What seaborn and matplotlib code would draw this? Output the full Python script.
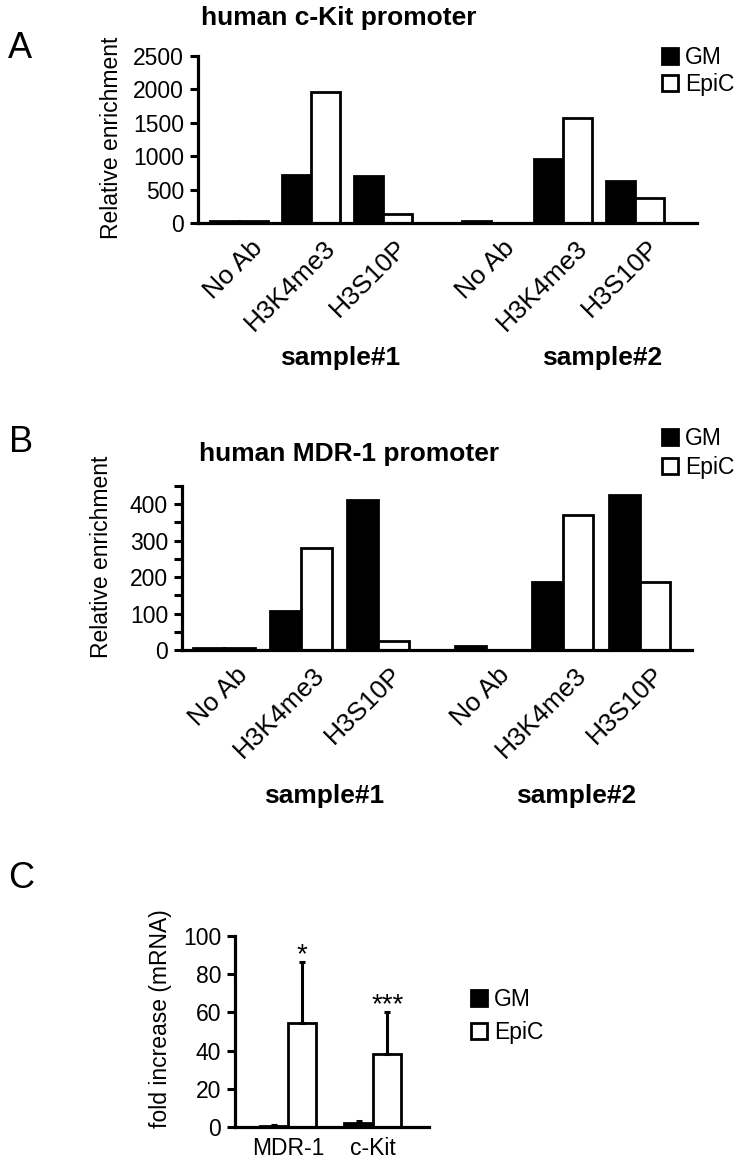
import numpy as np
import pandas as pd
import matplotlib
matplotlib.use("Agg")
import matplotlib.pyplot as plt
import seaborn as sns
from matplotlib.patches import Patch
from matplotlib.ticker import MultipleLocator
from matplotlib.transforms import ScaledTranslation

# ---------------- data ----------------
targets = ["No Ab", "H3K4me3", "H3S10P"]
samples = ["sample#1", "sample#2"]
conditions = ["GM", "EpiC"]

# panel A: human c-Kit promoter (sample#1 then sample#2)
kit_gm = [35, 715, 705, 35, 955, 635]
kit_epic = [35, 1960, 140, 0, 1570, 375]

# panel B: human MDR-1 promoter
mdr_gm = [6, 108, 412, 10, 186, 425]
mdr_epic = [6, 279, 26, 0, 371, 187]

# panel C: mRNA fold increase
genes = ["MDR-1", "c-Kit"]
mrna_gm = [0.5, 2.0]
mrna_gm_err = [0.3, 1.3]
mrna_epic = [54.5, 38.0]
mrna_epic_err = [32.0, 22.0]
stars = ["*", "***"]

# ---------------- style ----------------
W, H, DPI = 742, 1162, 100
sns.set_style("ticks")
plt.rcParams["font.family"] = ["Liberation Sans", "DejaVu Sans"]
plt.rcParams.update({
    "axes.linewidth": 2.3,
    "text.color": "black",
    "axes.labelcolor": "black",
    "axes.edgecolor": "black",
    "xtick.color": "black",
    "ytick.color": "black",
    "xtick.labelcolor": "black",
    "ytick.labelcolor": "black",
})

palette = {"GM": "black", "EpiC": "white"}
TICK_FS = 16.5
XTICK_FS = 19
BOLD_FS = 19

fig = plt.figure(figsize=(W / DPI, H / DPI), dpi=DPI)


def rect(l, t, r, b):
    return [l / W, 1 - b / H, (r - l) / W, (b - t) / H]


def chip_frame(gm, epic, gap):
    rows = []
    for i, (g, e) in enumerate(zip(gm, epic)):
        s, t = divmod(i, 3)
        pos = t + s * gap
        rows.append(dict(pos=pos, target=targets[t], sample=samples[s], cond="GM", value=g))
        rows.append(dict(pos=pos, target=targets[t], sample=samples[s], cond="EpiC", value=e))
    return pd.DataFrame(rows)


def style_axes(ax):
    sns.despine(ax=ax)
    for sp in ("left", "bottom"):
        ax.spines[sp].set_linewidth(2.3)
        ax.spines[sp].set_color("black")
    ax.tick_params(axis="y", which="both", direction="out", length=6, width=2.2,
                   labelsize=TICK_FS, pad=4, color="black", labelcolor="black")
    ax.set_xlabel("")


def add_legend(x_px, cy_px, spacing):
    handles = [Patch(facecolor=palette[c], edgecolor="black", linewidth=2) for c in conditions]
    fig.legend(handles, conditions, loc="center left",
               bbox_to_anchor=(x_px / W, 1 - cy_px / H), frameon=False,
               fontsize=16.5, handlelength=0.7, handleheight=0.7,
               handletextpad=0.3, labelspacing=spacing, borderpad=0, borderaxespad=0)


def chip_panel(rect_px, gm, epic, gap, xlim, ylim, major, minor, ylabel_xpx, ylabel_y):
    ax = fig.add_axes(rect(*rect_px))
    df = chip_frame(gm, epic, gap)
    sns.barplot(data=df, x="pos", y="value", hue="cond", hue_order=conditions,
                palette=palette, native_scale=True, width=0.8, edgecolor="black",
                linewidth=2.0, errorbar=None, legend=False, ax=ax)
    style_axes(ax)
    ax.set_ylim(*ylim)
    ax.set_xlim(*xlim)
    ax.yaxis.set_major_locator(MultipleLocator(major))
    if minor:
        ax.yaxis.set_minor_locator(MultipleLocator(minor))
    ticks = df.drop_duplicates("pos").sort_values("pos")
    ax.set_xticks(ticks["pos"].tolist(), ticks["target"].tolist())
    ax.tick_params(axis="x", length=0, pad=15, labelsize=XTICK_FS, labelcolor="black")
    off = ScaledTranslation(14.5 / 72, 0, fig.dpi_scale_trans)
    for lab in ax.get_xticklabels():
        lab.set_rotation(45)
        lab.set_ha("right")
        lab.set_va("center")
        lab.set_rotation_mode("anchor")
        lab.set_transform(lab.get_transform() + off)
    ax.set_ylabel("Relative enrichment", fontsize=TICK_FS)
    l, t, r, b = rect_px
    ax.yaxis.set_label_coords((ylabel_xpx - l) / (r - l), ylabel_y)
    return ax


# ---------------- panel A ----------------
axA = chip_panel((198, 56, 697, 223), kit_gm, kit_epic, 3.5, (-0.57, 6.36),
                 (0, 2500), 500, None, 123, 0.51)
fig.text(20 / W, 1 - 48 / H, "A", fontsize=26, ha="center", va="center")
fig.text(339 / W, 1 - 18 / H, "human c-Kit promoter", fontsize=BOLD_FS,
         fontweight="bold", ha="center", va="center")
fig.text(340 / W, 1 - 358 / H, samples[0], fontsize=BOLD_FS, fontweight="bold",
         ha="center", va="center")
fig.text(602 / W, 1 - 358 / H, samples[1], fontsize=BOLD_FS, fontweight="bold",
         ha="center", va="center")
add_legend(662, 71, 0.2)

# ---------------- panel B ----------------
axB = chip_panel((182, 486, 692, 650), mdr_gm, mdr_epic, 3.4, (-0.545, 6.08),
                 (0, 450), 100, 50, 113, 0.567)
fig.text(21 / W, 1 - 443 / H, "B", fontsize=26, ha="center", va="center")
fig.text(349 / W, 1 - 454 / H, "human MDR-1 promoter", fontsize=BOLD_FS,
         fontweight="bold", ha="center", va="center")
fig.text(324 / W, 1 - 796 / H, samples[0], fontsize=BOLD_FS, fontweight="bold",
         ha="center", va="center")
fig.text(576 / W, 1 - 796 / H, samples[1], fontsize=BOLD_FS, fontweight="bold",
         ha="center", va="center")
add_legend(662, 453, 0.3)

# ---------------- panel C ----------------
c_rect = (235, 936, 429, 1127)
axC = fig.add_axes(rect(*c_rect))
dfC = pd.DataFrame({
    "gene": genes * 2,
    "cond": ["GM"] * len(genes) + ["EpiC"] * len(genes),
    "value": mrna_gm + mrna_epic,
})
sns.barplot(data=dfC, x="gene", y="value", hue="cond", order=genes, hue_order=conditions,
            palette=palette, width=0.67, edgecolor="black", linewidth=2.0,
            errorbar=None, legend=False, ax=axC)
style_axes(axC)
axC.set_ylim(0, 100)
axC.set_xlim(-0.624, 1.66)
axC.yaxis.set_major_locator(MultipleLocator(20))
axC.tick_params(axis="x", length=0, pad=7, labelsize=TICK_FS, labelcolor="black")
errs = [mrna_gm_err, mrna_epic_err]
for cont, err in zip(axC.containers, errs):
    xs = [p.get_x() + p.get_width() / 2 for p in cont.patches]
    tops = [p.get_height() for p in cont.patches]
    axC.errorbar(xs, tops, yerr=[[0] * len(err), err], fmt="none", ecolor="black",
                 elinewidth=2.2, capsize=2, capthick=2.2, zorder=3)
ep = axC.containers[1].patches
for p, e, s in zip(ep, mrna_epic_err, stars):
    axC.text(p.get_x() + p.get_width() / 2, p.get_height() + e, s, fontsize=20,
             ha="center", va="baseline")
axC.set_ylabel("fold increase (mRNA)", fontsize=TICK_FS)
l, t, r, b = c_rect
axC.yaxis.set_label_coords((172 - l) / (r - l), 0.57)
fig.text(21 / W, 1 - 878 / H, "C", fontsize=26, ha="center", va="center")
add_legend(471, 1016, 0.4)

fig.savefig("out.png", dpi=DPI)
